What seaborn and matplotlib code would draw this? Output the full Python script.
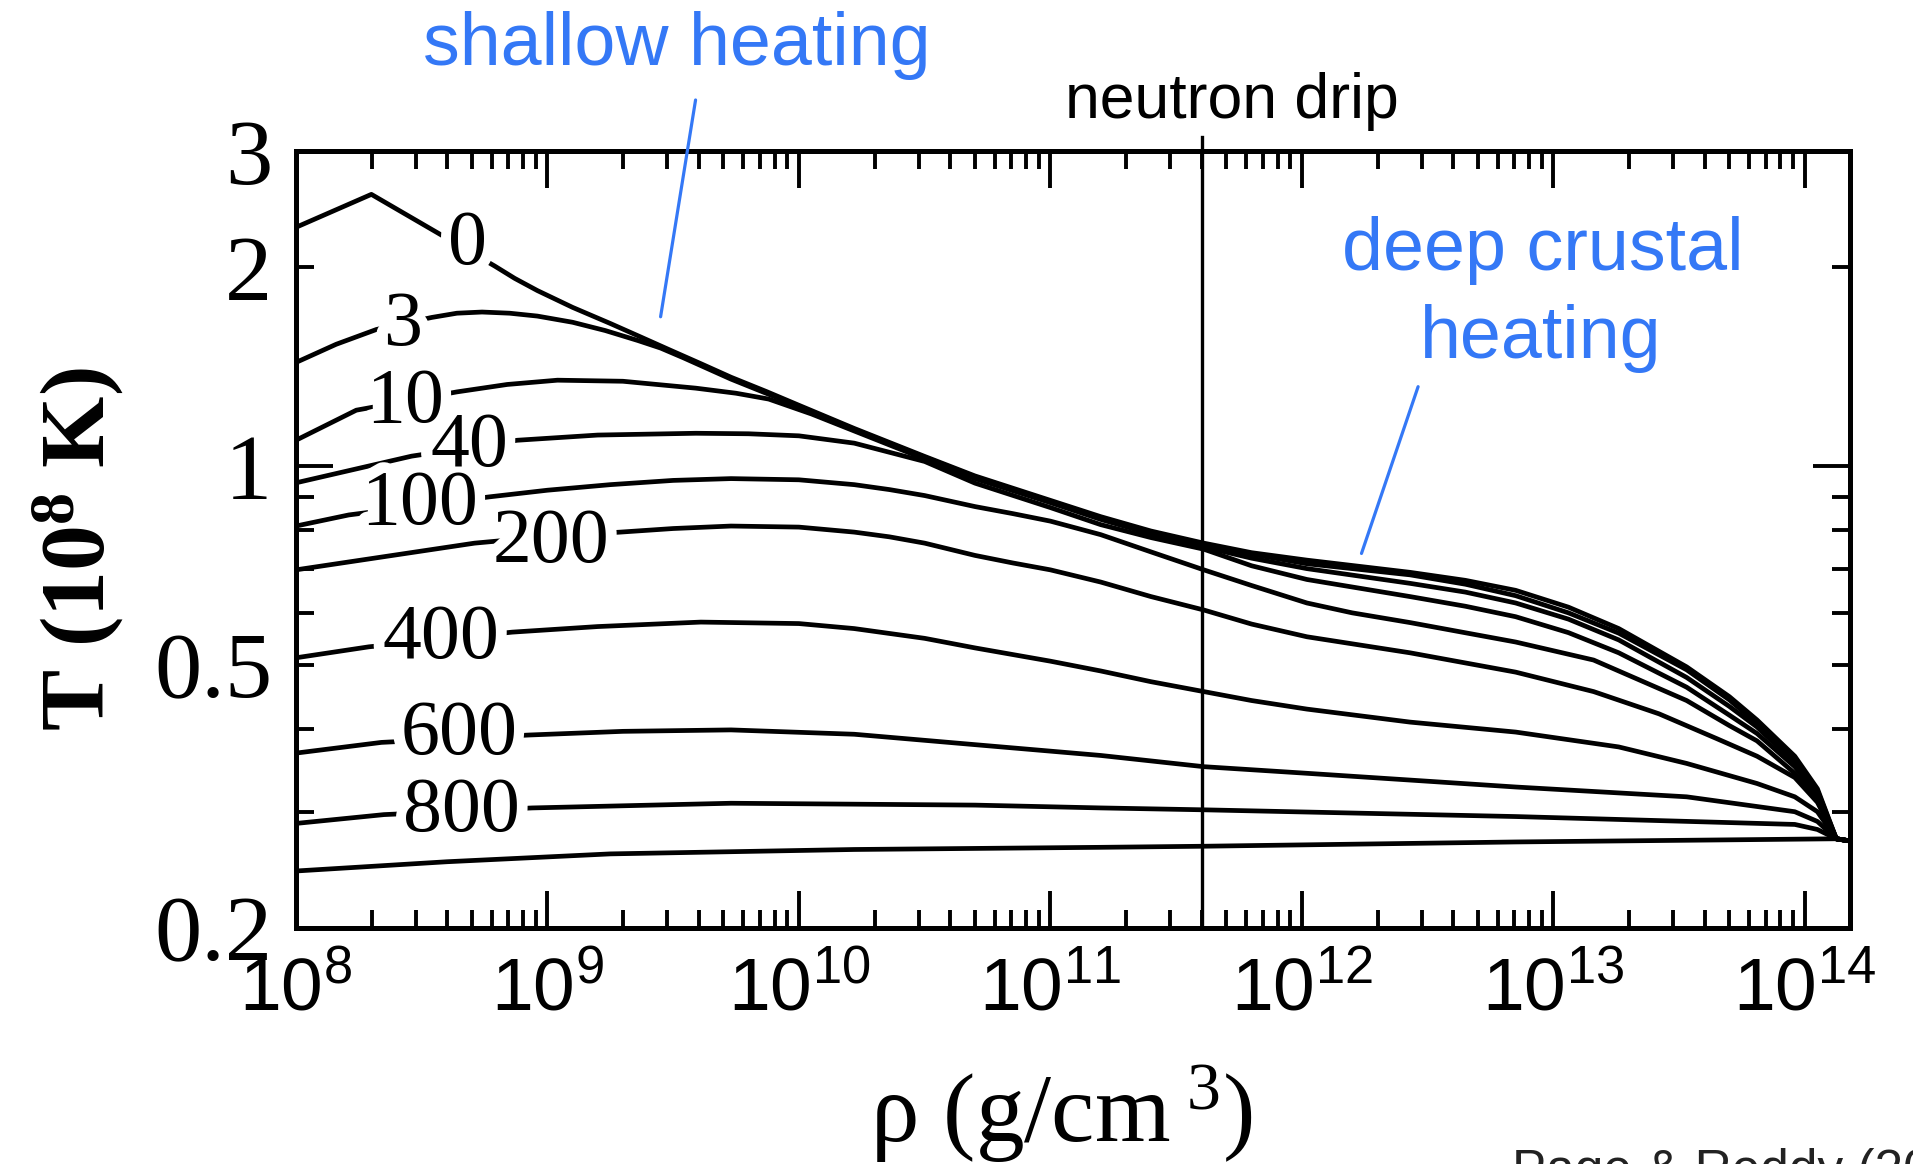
import numpy as np
import pandas as pd
import matplotlib
matplotlib.use("Agg")
import matplotlib.pyplot as plt
import matplotlib.patheffects as pe
from matplotlib.ticker import FixedLocator, FixedFormatter, LogLocator, NullFormatter
import seaborn as sns

# Crust temperature profiles after the end of an accretion outburst,
# labelled by the time elapsed in days ("late" = relaxed profile, unlabelled).
days = ["0", "3", "10", "40", "100", "200", "400", "600", "800", "late"]

log_rho_0 = [8.00, 8.30, 8.79, 8.87, 8.96, 9.10, 9.25, 9.37, 9.49, 9.61, 9.73, 9.87, 10.00,
             10.22, 10.50, 10.70, 11.00, 11.20, 11.40, 11.61, 11.80, 12.02, 12.43, 12.65,
             12.85, 13.06, 13.26, 13.53, 13.70, 13.81, 13.96, 14.05, 14.125, 14.178]
T_0 = [2.30, 2.58, 2.01, 1.925, 1.845, 1.74, 1.645, 1.57, 1.498, 1.43, 1.364, 1.298, 1.237,
       1.141, 1.035, 0.967, 0.888, 0.839, 0.798, 0.765, 0.740, 0.721, 0.691, 0.672,
       0.649, 0.612, 0.568, 0.497, 0.448, 0.413, 0.364, 0.325, 0.273, 0.271]

log_rho_3 = [8.00, 8.16, 8.32, 8.54, 8.64, 8.74, 8.85, 8.96, 9.10, 9.23, 9.36, 9.45, 9.54,
             9.73, 10.00, 10.22, 10.50, 10.70, 11.00, 11.20, 11.40, 11.61, 11.80, 12.02,
             12.43, 12.65, 12.85, 13.06, 13.26, 13.53, 13.70, 13.81, 13.96, 14.05, 14.125, 14.178]
T_3 = [1.436, 1.53, 1.611, 1.680, 1.705, 1.712, 1.705, 1.688, 1.652, 1.605, 1.55, 1.51, 1.46,
       1.355, 1.232, 1.137, 1.032, 0.964, 0.885, 0.836, 0.795, 0.762, 0.736, 0.712,
       0.685, 0.663, 0.637, 0.600, 0.559, 0.492, 0.443, 0.408, 0.362, 0.323, 0.273, 0.271]

log_rho_10 = [8.00, 8.24, 8.64, 8.84, 9.04, 9.30, 9.59, 9.75, 9.88, 10.05, 10.22, 10.50,
              10.70, 11.00, 11.20, 11.40, 11.61, 11.80, 12.02, 12.43, 12.65, 12.85, 13.06,
              13.26, 13.53, 13.70, 13.81, 13.96, 14.05, 14.125, 14.178]
T_10 = [1.095, 1.216, 1.296, 1.330, 1.350, 1.345, 1.313, 1.290, 1.264, 1.200, 1.131, 1.026,
        0.958, 0.881, 0.831, 0.790, 0.755, 0.726, 0.700, 0.665, 0.645, 0.621, 0.587,
        0.546, 0.479, 0.433, 0.403, 0.356, 0.320, 0.273, 0.271]

log_rho_40 = [8.00, 8.46, 8.88, 9.20, 9.59, 9.80, 10.00, 10.22, 10.36, 10.50, 10.70, 11.00,
              11.20, 11.40, 11.61, 11.80, 12.02, 12.43, 12.65, 12.85, 13.06, 13.26, 13.53,
              13.70, 13.81, 13.96, 14.05, 14.125, 14.178]
T_40 = [0.944, 1.036, 1.095, 1.115, 1.122, 1.120, 1.112, 1.084, 1.050, 1.017, 0.943, 0.866,
        0.816, 0.780, 0.749, 0.707, 0.674, 0.635, 0.614, 0.592, 0.560, 0.522, 0.463,
        0.420, 0.394, 0.351, 0.318, 0.273, 0.271]

log_rho_100 = [8.00, 8.21, 8.77, 9.00, 9.25, 9.50, 9.73, 10.00, 10.22, 10.36, 10.50, 10.70,
               10.85, 11.00, 11.20, 11.40, 11.61, 11.80, 12.02, 12.20, 12.43, 12.85, 13.16,
               13.53, 13.70, 13.81, 13.96, 14.05, 14.125, 14.178]
T_100 = [0.812, 0.844, 0.899, 0.920, 0.938, 0.952, 0.958, 0.954, 0.938, 0.922, 0.903, 0.869,
         0.848, 0.826, 0.788, 0.742, 0.697, 0.660, 0.621, 0.600, 0.580, 0.542, 0.509,
         0.442, 0.405, 0.384, 0.343, 0.314, 0.273, 0.271]

log_rho_200 = [8.00, 8.71, 9.00, 9.29, 9.50, 9.73, 10.00, 10.22, 10.36, 10.50, 10.70, 10.85,
               11.00, 11.20, 11.40, 11.61, 11.80, 12.02, 12.43, 12.85, 13.16, 13.42, 13.65,
               13.81, 13.96, 14.05, 14.125, 14.178]
T_200 = [0.697, 0.765, 0.783, 0.795, 0.805, 0.812, 0.809, 0.795, 0.782, 0.765, 0.733, 0.714,
         0.697, 0.668, 0.635, 0.606, 0.577, 0.552, 0.522, 0.488, 0.456, 0.422, 0.387,
         0.364, 0.338, 0.310, 0.273, 0.271]

log_rho_400 = [8.00, 8.29, 8.86, 9.20, 9.61, 10.00, 10.22, 10.50, 10.70, 11.00, 11.20, 11.40,
               11.61, 11.80, 12.02, 12.43, 12.85, 13.26, 13.53, 13.81, 13.96, 14.05, 14.125,
               14.178]
T_400 = [0.513, 0.533, 0.561, 0.572, 0.581, 0.578, 0.568, 0.549, 0.531, 0.507, 0.490, 0.472,
         0.456, 0.442, 0.429, 0.410, 0.396, 0.376, 0.355, 0.331, 0.316, 0.300, 0.273, 0.271]

log_rho_600 = [8.00, 8.34, 8.93, 9.30, 9.73, 10.22, 10.70, 11.20, 11.61, 12.02, 12.85, 13.53,
               13.96, 14.05, 14.125, 14.178]
T_600 = [0.368, 0.382, 0.392, 0.397, 0.399, 0.393, 0.379, 0.365, 0.351, 0.343, 0.327, 0.316,
         0.300, 0.290, 0.273, 0.271]

log_rho_800 = [8.00, 8.35, 8.94, 9.73, 10.22, 10.70, 11.20, 11.61, 12.85, 13.96, 14.05,
               14.125, 14.178]
T_800 = [0.288, 0.297, 0.304, 0.309, 0.308, 0.307, 0.304, 0.302, 0.295, 0.287, 0.282,
         0.273, 0.271]

log_rho_late = [8.00, 8.60, 9.25, 10.22, 11.20, 11.61, 12.85, 14.125, 14.178]
T_late = [0.244, 0.252, 0.259, 0.263, 0.265, 0.266, 0.270, 0.273, 0.271]

# where each day label sits on its curve
label_log_rho = [8.684, 8.425, 8.433, 8.688, 8.491, 9.014, 8.577, 8.647, 8.660]
label_T = [2.158, 1.632, 1.248, 1.070, 0.873, 0.766, 0.5475, 0.391, 0.299]

rho_drip = 4.0e11  # neutron drip density, g/cm^3

x_major = [1e8, 1e9, 1e10, 1e11, 1e12, 1e13, 1e14]
x_major_labels = [r"$\mathregular{10^{%d}}$" % k for k in range(8, 15)]
y_major = [1.0]
y_major_labels = ["1"]
y_minor = [0.2, 0.3, 0.4, 0.5, 0.6, 0.7, 0.8, 0.9, 2.0, 3.0]
y_minor_labels = ["0.2", "", "", "0.5", "", "", "", "", "2", "3"]

profiles = {
    "0": (log_rho_0, T_0), "3": (log_rho_3, T_3), "10": (log_rho_10, T_10),
    "40": (log_rho_40, T_40), "100": (log_rho_100, T_100), "200": (log_rho_200, T_200),
    "400": (log_rho_400, T_400), "600": (log_rho_600, T_600), "800": (log_rho_800, T_800),
    "late": (log_rho_late, T_late),
}
frames = []
for d in days:
    lr, tt = profiles[d]
    frames.append(pd.DataFrame({"rho": np.power(10.0, lr), "T": tt, "days": d}))
df = pd.concat(frames, ignore_index=True)

plt.rcParams["font.family"] = ["Liberation Serif", "DejaVu Serif"]
plt.rcParams["mathtext.fontset"] = "custom"
plt.rcParams["mathtext.rm"] = "Liberation Serif"

SERIF = "Liberation Serif"
SANS = "Liberation Sans"
BLUE = "#3478f6"

fig = plt.figure(figsize=(19.13, 11.64), dpi=100)
ax = fig.add_axes([0.1547, 0.2027, 0.8123, 0.6675])

sns.lineplot(data=df, x="rho", y="T", hue="days", hue_order=days,
             palette={d: "black" for d in days}, estimator=None, sort=True,
             legend=False, linewidth=3.4, ax=ax, zorder=2)

ax.set_xscale("log")
ax.set_yscale("log")
ax.set_xlim(1e8, 10 ** 14.179)
ax.set_ylim(0.2, 3.0)

# neutron drip marker, running slightly above the frame
ax.plot([rho_drip, rho_drip], [0.2, 3.15], color="black", lw=2.4, clip_on=False, zorder=2)

# day labels interrupt their curves: a white halo layer first, then the numbers on top
halo = [pe.withStroke(linewidth=15, foreground="white")]
for txt, lr, tv in zip(days[:-1], label_log_rho, label_T):
    ax.text(10 ** lr, tv, txt, fontsize=56, family=SERIF, ha="center", va="center",
            color="white", zorder=3, path_effects=halo)
for txt, lr, tv in zip(days[:-1], label_log_rho, label_T):
    ax.text(10 ** lr, tv, txt, fontsize=56, family=SERIF, ha="center", va="center",
            color="black", zorder=4)

# axes frame and ticks
for sp in ax.spines.values():
    sp.set_linewidth(3.6)
ax.xaxis.set_major_locator(FixedLocator(x_major))
ax.xaxis.set_major_formatter(FixedFormatter(x_major_labels))
ax.xaxis.set_minor_locator(LogLocator(base=10, subs=np.arange(2, 10), numticks=100))
ax.xaxis.set_minor_formatter(NullFormatter())
ax.yaxis.set_major_locator(FixedLocator(y_major))
ax.yaxis.set_major_formatter(FixedFormatter(y_major_labels))
ax.yaxis.set_minor_locator(FixedLocator(y_minor))
ax.yaxis.set_minor_formatter(FixedFormatter(y_minor_labels))
ax.tick_params(which="both", direction="in", top=True, right=True, width=2.8, color="black")
ax.tick_params(which="major", length=26.5)
ax.tick_params(which="minor", length=13)
ax.tick_params(axis="x", which="both", pad=20, labelsize=54)
ax.tick_params(axis="y", which="both", pad=17, labelsize=68)
for t in ax.get_xticklabels():
    t.set_fontfamily(SANS)
for t in ax.get_yticklabels(which="both"):
    t.set_fontfamily(SERIF)
ax.set_xlabel("")
ax.set_ylabel("")

fig.text(0.5546, 0.0198, r"ρ (g/cm$\mathregular{\,^{3}}$)", fontsize=70, family=SERIF,
         ha="center", va="baseline")
fig.text(0.0403, 0.5284, r"T (10$\mathregular{^{8}}$ K)", fontsize=66, family=SERIF,
         fontweight="bold", rotation=90, ha="center", va="center")

# annotations
fig.text(0.644, 0.8986, "neutron drip", fontsize=45, family=SANS, color="black",
         ha="center", va="baseline")
fig.text(0.3536, 0.9442, "shallow heating", fontsize=53, family=SANS, color=BLUE,
         ha="center", va="baseline")
fig.text(0.8063, 0.768, "deep crustal", fontsize=53, family=SANS, color=BLUE,
         ha="center", va="baseline")
fig.text(0.8055, 0.6924, "heating", fontsize=53, family=SANS, color=BLUE,
         ha="center", va="baseline")
ax.annotate("", xy=(10 ** 9.45, 1.684), xycoords="data",
            xytext=(0.3636, 0.9141), textcoords="figure fraction",
            arrowprops=dict(arrowstyle="-", color=BLUE, lw=2.3, shrinkA=0, shrinkB=0),
            annotation_clip=False)
ax.annotate("", xy=(10 ** 12.237, 0.738), xycoords="data",
            xytext=(0.7413, 0.6678), textcoords="figure fraction",
            arrowprops=dict(arrowstyle="-", color=BLUE, lw=2.3, shrinkA=0, shrinkB=0),
            annotation_clip=False)

fig.text(0.7904, -0.0193, "Page & Reddy (2013)", fontsize=37, family=SANS, color="#222222",
         ha="left", va="baseline")

fig.savefig("out.png", dpi=100)
